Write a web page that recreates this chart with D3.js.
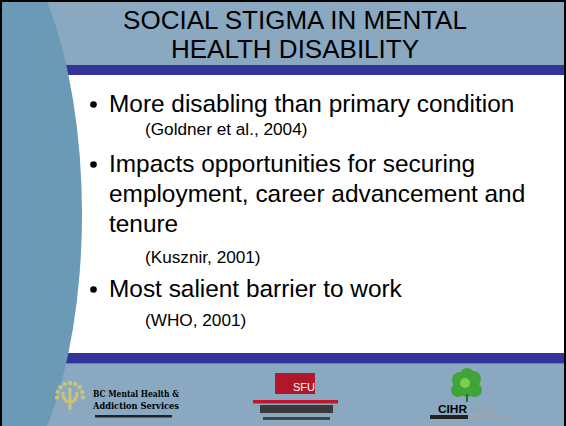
<!DOCTYPE html>
<html>
<head>
<meta charset="utf-8">
<script src="https://cdn.jsdelivr.net/npm/d3@7"></script>
<style>
  body { margin: 0; background: #fff; }
  svg { display: block; font-family: "Liberation Sans", Arial, sans-serif; }
</style>
</head>
<body>
<script>
// slide content
var titleLines = ['SOCIAL STIGMA IN MENTAL', 'HEALTH DISABILITY'];
var bulletLines = [
  ['More disabling than primary condition'],
  ['Impacts opportunities for securing', 'employment, career advancement and', 'tenure'],
  ['Most salient barrier to work']
];
var citations = ['(Goldner et al., 2004)', '(Kusznir, 2001)', '(WHO, 2001)'];
var logoNames = ['BC Mental Health &', 'Addiction Services'];

var W = 566, H = 426;
var svg = d3.select('body').append('svg').attr('width', W).attr('height', H);

// background bands
svg.append('rect').attr('width', W).attr('height', H).attr('fill', '#8aa9c0');
svg.append('rect').attr('x', 0).attr('y', 65).attr('width', W).attr('height', 10).attr('fill', '#333399');
svg.append('rect').attr('x', 0).attr('y', 75).attr('width', W).attr('height', 278).attr('fill', '#ffffff');
svg.append('rect').attr('x', 0).attr('y', 353).attr('width', W).attr('height', 10).attr('fill', '#333399');
svg.append('rect').attr('x', 0).attr('y', 363).attr('width', W).attr('height', 1).attr('fill', '#6f7f95');

// left ellipse
svg.append('ellipse').attr('cx', -37).attr('cy', 214).attr('rx', 119).attr('ry', 300).attr('fill', '#6a9ab5');

// title
var title = svg.append('g').attr('text-anchor', 'middle').attr('font-size', 26).attr('fill', '#000');
title.selectAll('text').data(titleLines).enter().append('text')
  .attr('x', 295)
  .attr('y', function(d, i) { return 29 + i * 29; })
  .text(function(d) { return d; });

// body text, baselines
var mainY = [[112], [172, 202, 232], [297]];
var citeY = [135, 263, 326];

var body = svg.append('g');
bulletLines.forEach(function(lines, i) {
  body.append('circle').attr('cx', 93.5).attr('cy', mainY[i][0] - 7.5).attr('r', 3.3).attr('fill', '#000');
  body.selectAll(null).data(lines).enter().append('text')
    .attr('x', 109)
    .attr('y', function(d, j) { return mainY[i][j]; })
    .attr('font-size', 24.4)
    .text(function(d) { return d; });
  body.append('text')
    .attr('x', 145).attr('y', citeY[i])
    .attr('font-size', 17.2)
    .text(citations[i]);
});

// logos in the footer
var logos = svg.append('g');
// BC Mental Health symbol
var sun = logos.append('g').attr('transform', 'translate(70,396)');
d3.range(9).forEach(function(k) {
  var a = -Math.PI / 2 + (k - 4) * 0.42;
  sun.append('circle').attr('cx', Math.cos(a) * 13).attr('cy', Math.sin(a) * 13).attr('r', 2.2).attr('fill', '#c9c47a');
});
sun.append('path').attr('d', 'M-7,-4 Q-7,6 0,6 Q7,6 7,-4 M0,-8 L0,14')
  .attr('fill', 'none').attr('stroke', '#c9c47a').attr('stroke-width', 3);
logos.selectAll('.bc').data(logoNames).enter().append('text')
  .attr('class', 'bc')
  .attr('x', 93).attr('y', function(d, i) { return 397 + i * 12; })
  .attr('font-size', 9.5).attr('font-weight', 'bold').attr('font-family', 'DejaVu Serif')
  .attr('textLength', 86).attr('lengthAdjust', 'spacingAndGlyphs')
  .text(function(d) { return d; });
logos.append('rect').attr('x', 95).attr('y', 415).attr('width', 77).attr('height', 2.5).attr('fill', '#222');

// SFU
logos.append('rect').attr('x', 275).attr('y', 373).attr('width', 40).attr('height', 21).attr('fill', '#b0182a');
logos.append('text').attr('x', 304).attr('y', 391).attr('text-anchor', 'middle')
  .attr('font-size', 11).attr('fill', '#fff').text('SFU');
logos.append('rect').attr('x', 253).attr('y', 400).attr('width', 85).attr('height', 3.5).attr('fill', '#c0182a');
logos.append('rect').attr('x', 260).attr('y', 405).attr('width', 73).attr('height', 8).attr('fill', '#3a3a3a');
logos.append('rect').attr('x', 263).attr('y', 417).attr('width', 67).attr('height', 3).attr('fill', '#444');

// CIHR
var leaf = logos.append('g').attr('transform', 'translate(467,386)');
[[-7, -6, 8], [6, -7, 8], [0, -11, 7], [-9, 4, 7], [8, 4, 7], [0, 2, 9]].forEach(function(c) {
  leaf.append('circle').attr('cx', c[0]).attr('cy', c[1]).attr('r', c[2]).attr('fill', '#3fa53a');
});
leaf.append('circle').attr('cx', -2).attr('cy', -3).attr('r', 5).attr('fill', '#7ccf4a');
leaf.append('rect').attr('x', -1).attr('y', 8).attr('width', 2).attr('height', 8).attr('fill', '#2d6e2a');
logos.append('text').attr('x', 438).attr('y', 413).attr('font-size', 11).attr('font-weight', 'bold')
  .attr('textLength', 29).attr('lengthAdjust', 'spacingAndGlyphs').text('CIHR');
logos.append('text').attr('x', 470).attr('y', 413).attr('font-size', 11).attr('fill', '#9aa0a6')
  .attr('textLength', 26).attr('lengthAdjust', 'spacingAndGlyphs').text('IRSC');
logos.append('rect').attr('x', 430).attr('y', 415).attr('width', 38).attr('height', 4).attr('fill', '#222');
logos.append('rect').attr('x', 470).attr('y', 415).attr('width', 36).attr('height', 3).attr('fill', '#a0a4a8');

// frame
svg.append('path').attr('d', 'M1,' + H + ' L1,1 L' + (W - 1) + ',1 L' + (W - 1) + ',' + H)
  .attr('fill', 'none').attr('stroke', '#000').attr('stroke-width', 2);
</script>
</body>
</html>
